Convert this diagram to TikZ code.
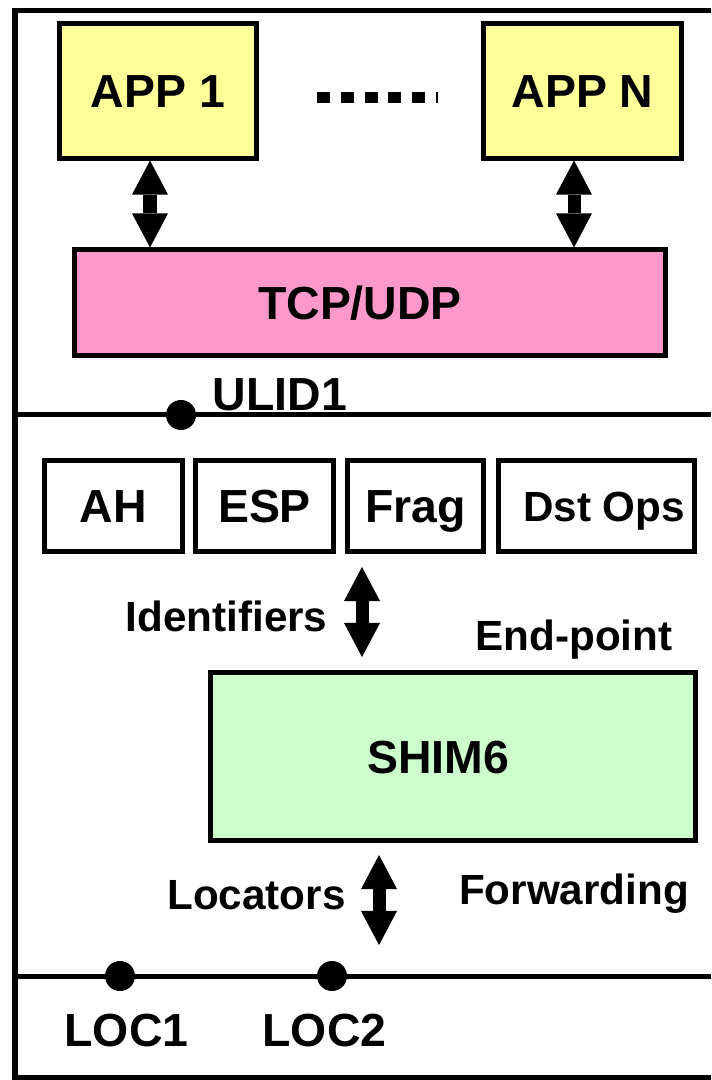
\documentclass[tikz,border=0pt]{standalone}
\usepackage{fontspec}
\setmainfont{Liberation Sans}
\usepackage{tikz}
\usetikzlibrary{arrows.meta}
\definecolor{appyellow}{HTML}{FFFF99}
\definecolor{tcppink}{HTML}{FF99CC}
\definecolor{shimgreen}{HTML}{CCFFCC}

\begin{document}
\begin{tikzpicture}[x=0.01cm, y=-0.01cm,
  layerbox/.style={draw, line width=0.05cm, inner sep=0pt, font=\fontsize{13.2}{15}\selectfont\bfseries, text height=9.45pt, text depth=0pt},
  biglbl/.style={inner sep=0pt, font=\fontsize{13.2}{15}\selectfont\bfseries, text height=9.45pt, text depth=0pt},
  lbl/.style={inner sep=0pt, font=\fontsize{12}{14}\selectfont\bfseries, text height=8.6pt, text depth=0pt},
  attach/.style={circle, fill, inner sep=0pt, minimum size=0.3cm},
  dbl/.style={line width=0.13cm, {Triangle[width=0.36cm,length=0.34cm,line width=0pt]}-{Triangle[width=0.36cm,length=0.34cm,line width=0pt]}}]
\useasboundingbox (0,0) rectangle (711,1080);
\draw[line width=0.05cm] (711,11) -| (15,1077) -- (711,1077);
\draw[line width=0.05cm] (15,415) -- (711,415);
\draw[line width=0.05cm] (15,976) -- (711,976);

\node[layerbox, fill=appyellow, minimum width=1.96cm, minimum height=1.34cm] (app1) at (158,91) {APP 1};
\node[layerbox, fill=appyellow, minimum width=1.97cm, minimum height=1.34cm] (appn) at (582.5,91) {APP N};
\draw[line width=0.11cm, dash pattern=on 0.13cm off 0.108cm] (317,98) -- (438,98);
\node[layerbox, fill=tcppink, minimum width=5.9cm, minimum height=1.05cm] (tcp) at (370,302.5) {TCP/UDP\hspace*{0.2cm}};
\draw[dbl] ([xshift=-0.08cm]app1.south) -- ([xshift=-0.08cm]app1.south |- tcp.north);
\draw[dbl] ([xshift=-0.085cm]appn.south) -- ([xshift=-0.085cm]appn.south |- tcp.north);

\node[attach] (ulid) at (181,415) {};
\node[biglbl, anchor=west] (ulidtxt) at (212,394) {ULID1};

\node[layerbox, minimum width=1.37cm, minimum height=0.9cm] (ah) at (113.5,506) {AH};
\node[layerbox, minimum width=1.37cm, minimum height=0.9cm] (esp) at (264.5,506) {ESP};
\node[layerbox, minimum width=1.35cm, minimum height=0.9cm] (frag) at (415.5,506) {Frag};
\node[layerbox, minimum width=1.95cm, minimum height=0.9cm, font=\fontsize{12}{14}\selectfont\bfseries, text height=8.6pt] (dstops) at (596.5,506) {\hspace*{0.15cm}Dst Ops};

\coordinate (idtop) at (362,567);
\coordinate (idbot) at (362,657);
\draw[dbl] (idtop) -- (idbot);
\node[lbl] (idtxt) at (226.5,616) {Identifiers};
\node[lbl] (eptxt) at (574,635) {End-point};

\node[layerbox, fill=shimgreen, minimum width=4.84cm, minimum height=1.67cm] (shim) at (453,756.5) {SHIM6\hspace*{0.3cm}};

\coordinate (loctop) at (379,855);
\coordinate (locbot) at (379,945);
\draw[dbl] (loctop) -- (locbot);
\node[lbl] (loctxt) at (256.5,894) {Locators};
\node[lbl] (fwdtxt) at (574,889) {Forwarding};

\node[attach] (loc1) at (120,976) {};
\node[attach] (loc2) at (332,976) {};
\node[biglbl] (loc1txt) at (126.5,1030) {LOC1};
\node[biglbl] (loc2txt) at (324.5,1030) {LOC2};
\end{tikzpicture}
\end{document}
